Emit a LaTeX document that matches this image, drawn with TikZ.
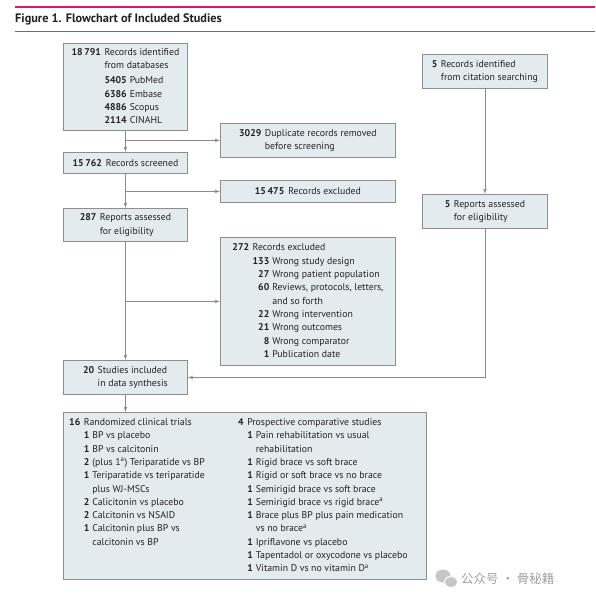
\documentclass[tikz,border=0pt]{standalone}
\usepackage{fontspec}
\setmainfont{PT Sans}
\newfontfamily\cjk{Noto Sans CJK SC}
\usepackage{xcolor}
\usetikzlibrary{arrows,positioning}

\definecolor{boxfill}{HTML}{E4EBEE}
\definecolor{boxline}{HTML}{8E8E8E}
\definecolor{linkline}{HTML}{8A8A8A}
\definecolor{jamapink}{HTML}{E3146B}
\definecolor{inktext}{HTML}{222222}

\begin{document}
\begin{tikzpicture}[x=1pt, y=-1pt, font=\fontsize{9.8}{13.3}\selectfont, text=inktext]
\tikzset{
    flowbox/.style={rectangle, draw=boxline, fill=boxfill, line width=0.9pt, inner sep=0pt, anchor=north west, align=center},
    listtext/.style={inner sep=0pt, anchor=north west, align=left},
    flowarrow/.style={->, >=latex', draw=linkline, line width=0.8pt}
}
\useasboundingbox (0,0) rectangle (595,603);

% heading
\draw[jamapink, line width=2.5pt] (15,7) -- (595,7);
\node[anchor=west, inner sep=0pt, font=\fontsize{12.3}{14}\selectfont\bfseries] (title) at (15,19) {Figure 1. Flowchart of Included Studies};
\draw[linkline!80!black, line width=1pt] (15,31) -- (595,31);

% left column
\node[flowbox, minimum width=124, minimum height=87] (ident) at (63,43) {%
\begin{tabular}{@{}r@{\hspace{3.5pt}}r@{\hspace{3pt}}l@{}}
\textbf{18\,791} & \multicolumn{2}{@{}l@{}}{Records identified}\\
 & \multicolumn{2}{@{}l@{}}{from databases}\\[2pt]
 & \textbf{5405} & PubMed\\
 & \textbf{6386} & Embase\\
 & \textbf{4886} & Scopus\\
 & \textbf{2114} & CINAHL
\end{tabular}};
\node[flowbox, minimum width=124, minimum height=21] (screened) at (63,152) {\textbf{15\,762}\hspace{4pt}Records screened};
\node[flowbox, minimum width=124, minimum height=33] (reports) at (63,208) {%
\begin{tabular}{@{}r@{\hspace{3.5pt}}l@{}}
\textbf{287} & Reports assessed\\
 & for eligibility
\end{tabular}};
\node[flowbox, minimum width=124, minimum height=34] (included) at (63,360) {%
\begin{tabular}{@{}r@{\hspace{3.5pt}}l@{}}
\textbf{20} & Studies included\\
 & in data synthesis
\end{tabular}};

% exclusions
\node[flowbox, minimum width=175, minimum height=34] (dup) at (220,123) {%
\begin{tabular}{@{}r@{\hspace{3.5pt}}l@{}}
\textbf{3029} & Duplicate records removed\\
 & before screening
\end{tabular}};
\node[flowbox, minimum width=175, minimum height=22] (excl1) at (220,180) {\textbf{15\,475}\hspace{4pt}Records excluded};
\node[flowbox, minimum width=175, minimum height=128] (excl2) at (220,237) {%
\begin{tabular}{@{}r@{\hspace{3.5pt}}r@{\hspace{3pt}}l@{}}
\textbf{272} & \multicolumn{2}{@{}l@{}}{Records excluded}\\
 & \textbf{133} & Wrong study design\\
 & \textbf{27} & Wrong patient population\\
 & \textbf{60} & Reviews, protocols, letters,\\
 & & and so forth\\
 & \textbf{22} & Wrong intervention\\
 & \textbf{21} & Wrong outcomes\\
 & \textbf{8} & Wrong comparator\\
 & \textbf{1} & Publication date
\end{tabular}};

% citation searching
\node[flowbox, minimum width=125, minimum height=34] (cite) at (422,54) {%
\begin{tabular}{@{}r@{\hspace{3.5pt}}l@{}}
\textbf{5} & Records identified\\
 & from citation searching
\end{tabular}};
\node[flowbox, minimum width=125, minimum height=34] (rep2) at (422,194) {%
\begin{tabular}{@{}r@{\hspace{3.5pt}}l@{}}
\textbf{5} & Reports assessed\\
 & for eligibility
\end{tabular}};

% included studies
\node[flowbox, minimum width=363, minimum height=167] (synth) at (63,412) {};
\node[listtext] (rct) at (69,416) {%
\begin{tabular}[t]{@{}r@{\hspace{3.5pt}}r@{\hspace{3pt}}l@{}}
\textbf{16} & \multicolumn{2}{@{}l@{}}{Randomized clinical trials}\\
 & \textbf{1} & BP vs placebo\\
 & \textbf{1} & BP vs calcitonin\\
 & \textbf{2} & (plus 1\textsuperscript{a}) Teriparatide vs BP\\
 & \textbf{1} & Teriparatide vs teriparatide\\
 & & plus WJ-MSCs\\
 & \textbf{2} & Calicitonin vs placebo\\
 & \textbf{2} & Calcitonin vs NSAID\\
 & \textbf{1} & Calcitonin plus BP vs\\
 & & calcitonin vs BP
\end{tabular}};
\node[listtext] (pcs) at (238,416) {%
\begin{tabular}[t]{@{}r@{\hspace{3.5pt}}r@{\hspace{3pt}}l@{}}
\textbf{4} & \multicolumn{2}{@{}l@{}}{Prospective comparative studies}\\
 & \textbf{1} & Pain rehabilitation vs usual\\
 & & rehabilitation\\
 & \textbf{1} & Rigid brace vs soft brace\\
 & \textbf{1} & Rigid or soft brace vs no brace\\
 & \textbf{1} & Semirigid brace vs soft brace\\
 & \textbf{1} & Semirigid brace vs rigid brace\textsuperscript{a}\\
 & \textbf{1} & Brace plus BP plus pain medication\\
 & & vs no brace\textsuperscript{a}\\
 & \textbf{1} & Ipriflavone vs placebo\\
 & \textbf{1} & Tapentadol or oxycodone vs placebo\\
 & \textbf{1} & Vitamin D vs no vitamin D\textsuperscript{a}
\end{tabular}};

% connectors
\draw[flowarrow] (ident.south) -- (screened.north);
\draw[flowarrow] (screened.south) -- (reports.north);
\draw[flowarrow] (reports.south) -- (included.north);
\draw[flowarrow] (included.south) -- (synth.north -| included.south);
\draw[flowarrow] (ident.south |- dup.west) -- (dup.west);
\draw[flowarrow] (screened.south |- excl1.west) -- (excl1.west);
\draw[flowarrow] (reports.south |- excl2.west) -- (excl2.west);
\draw[flowarrow] (cite.south) -- (rep2.north);
\draw[flowarrow] (rep2.south) |- (included.east);

% watermark
\fill[gray!45] (443,576) ellipse (7.5 and 6.5);
\fill[gray!45, draw=white, line width=1pt] (451,582) ellipse (6.5 and 5.5);
\node[anchor=west, inner sep=0pt, text=gray!75, font=\cjk\fontsize{12.5}{13}\selectfont] (mark) at (461,579) {公众号 · 骨秘籍};
\end{tikzpicture}
\end{document}
